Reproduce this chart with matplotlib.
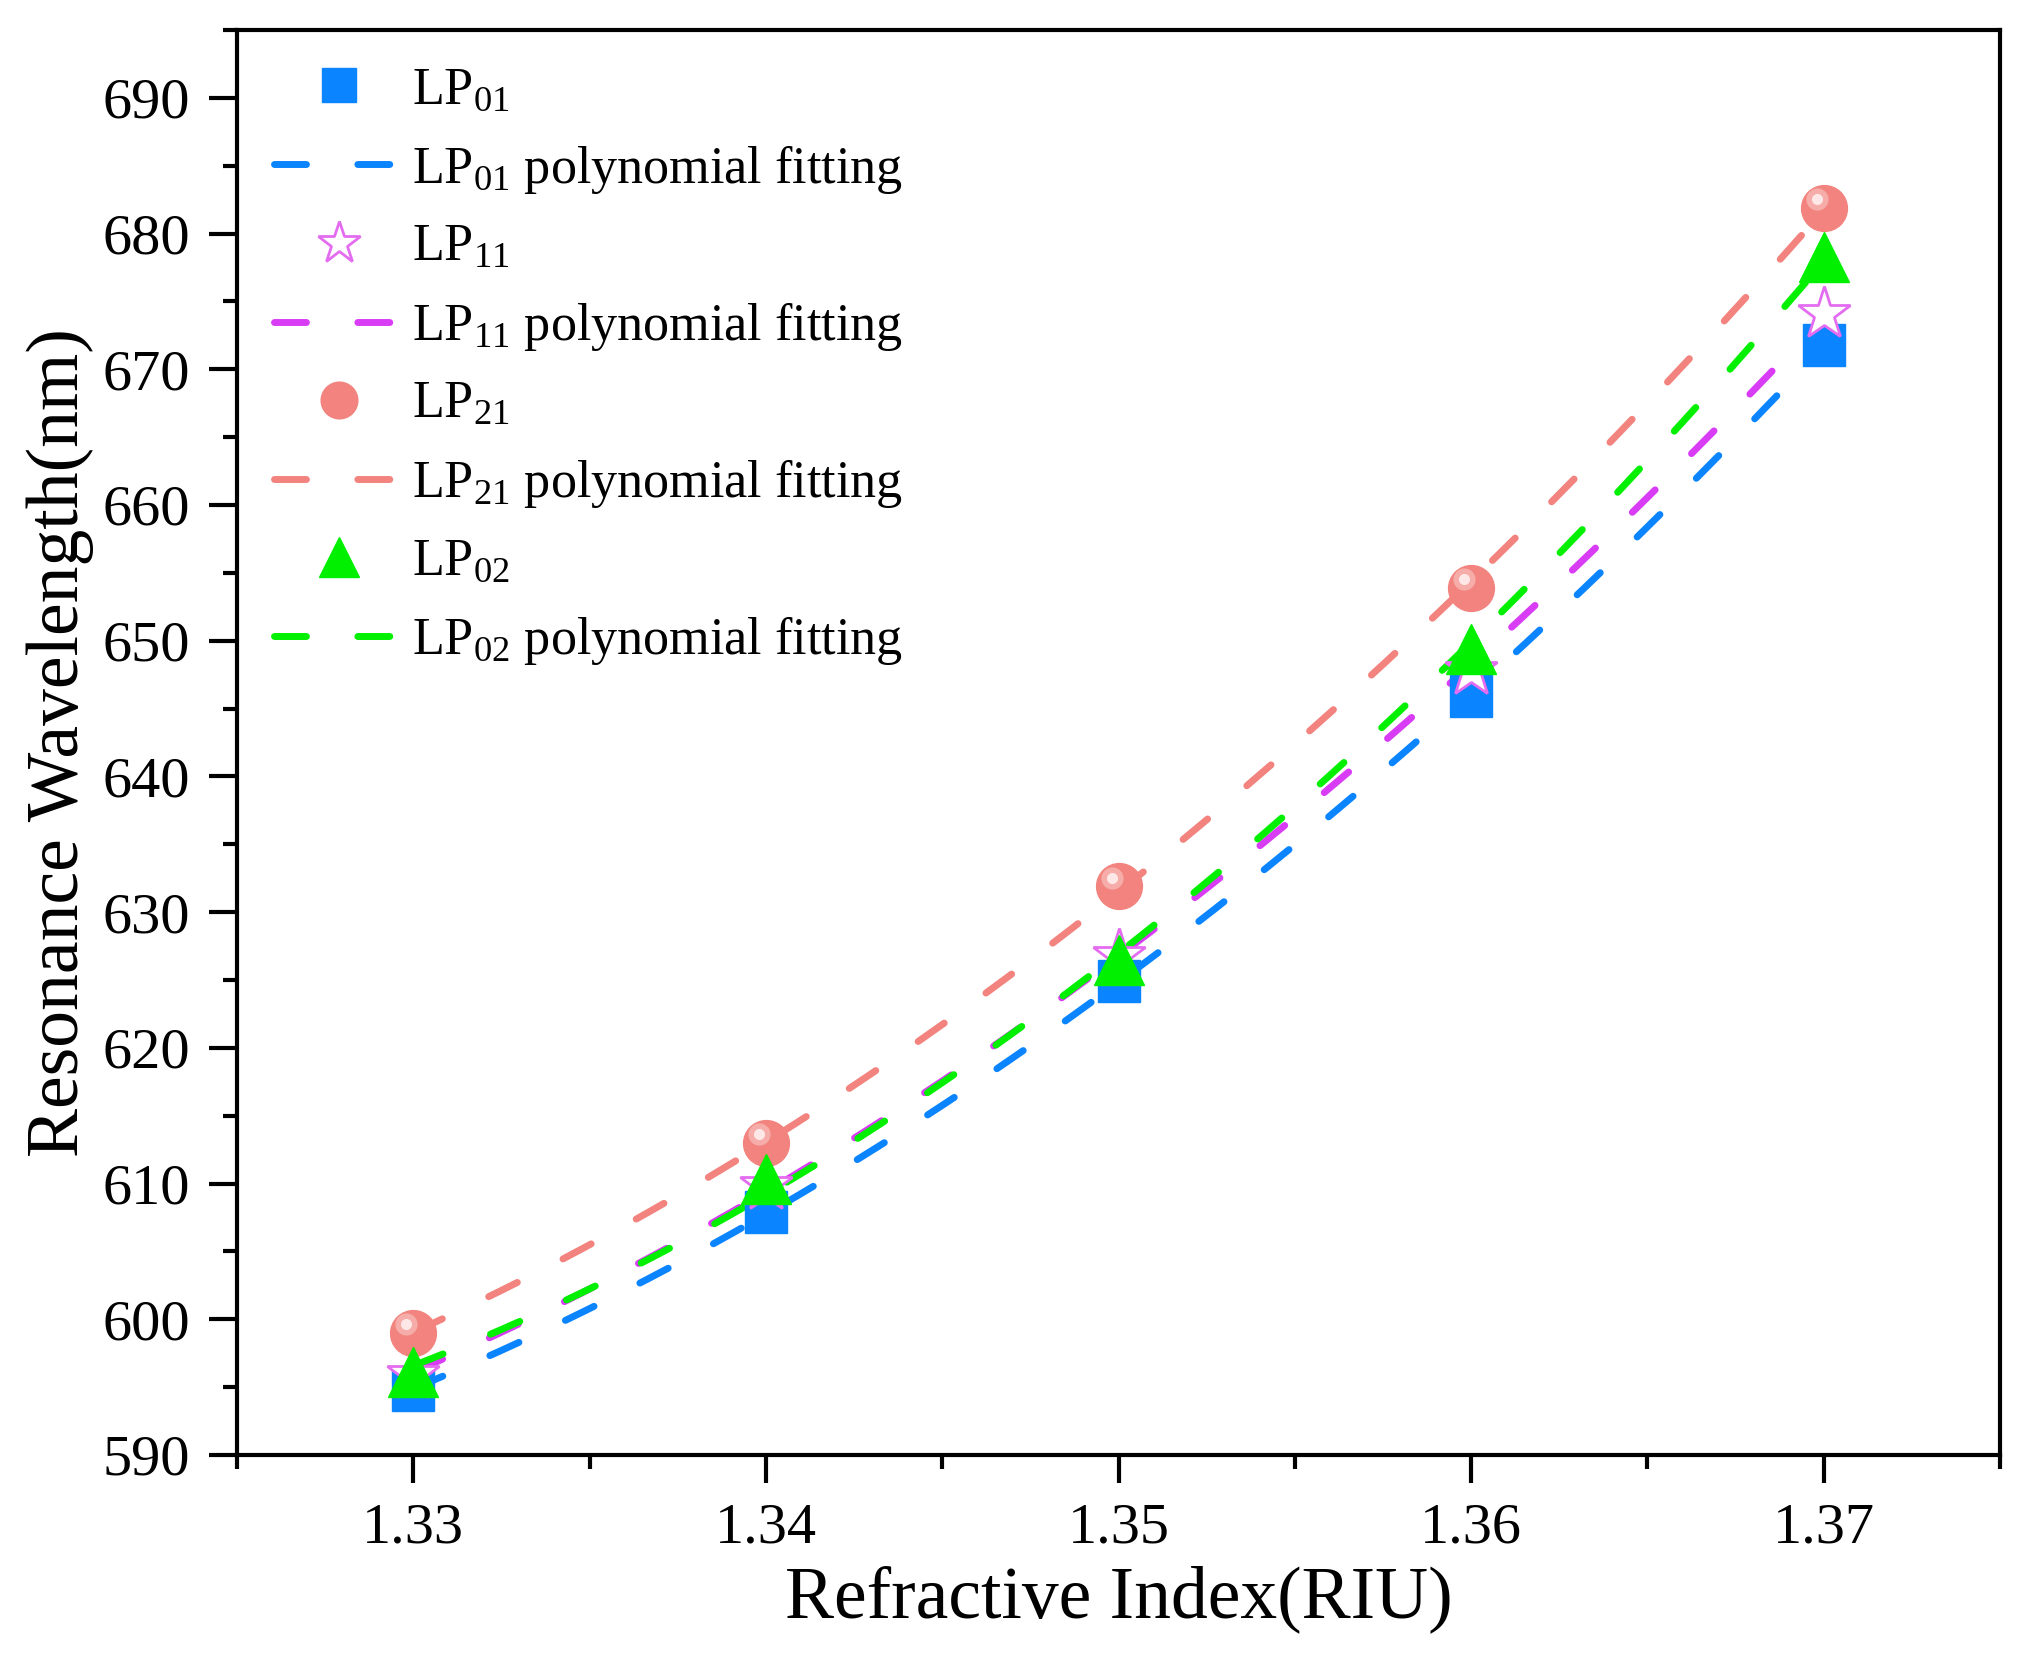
import numpy as np
import matplotlib
matplotlib.use("Agg")
import matplotlib.pyplot as plt
from matplotlib.ticker import MultipleLocator
import matplotlib.transforms as mtransforms

plt.rcParams["font.family"] = ["Liberation Serif", "DejaVu Serif"]
plt.rcParams["mathtext.fontset"] = "custom"
plt.rcParams["mathtext.rm"] = "Liberation Serif"
plt.rcParams["mathtext.it"] = "Liberation Serif:italic"
plt.rcParams["mathtext.bf"] = "Liberation Serif:bold"

# ── data ─────────────────────────────────────────────────────────────────────
ri = [1.33, 1.34, 1.35, 1.36, 1.37]
lp01 = [594.8, 607.9, 624.9, 645.9, 671.8]
lp11 = [595.9, 609.8, 626.8, 647.8, 674.1]
lp21 = [599.0, 613.0, 631.9, 653.9, 681.9]
lp02 = [596.1, 610.3, 626.5, 649.4, 678.3]

modes = ["01", "11", "21", "02"]

# colours
c_blue = "#0a84ff"
c_mag = "#d83cf5"
c_star = "#e46cf0"
c_red = "#f2837e"
c_green = "#00f000"

fig = plt.figure(figsize=(20.33, 16.59), dpi=100)
ax = fig.add_axes([0.1166, 0.123, 0.8672, 0.8589])

x = np.array(ri)
xf = np.linspace(ri[0], ri[-1], 200)


def fit(y):
    # 2nd order polynomial fit of one mode
    return np.polyval(np.polyfit(x, np.array(y), 2), xf)


dash_kw = dict(lw=5, dash_capstyle="round", zorder=2)
dashes = (4.6, 7.4)

# fitted curves
l01, = ax.plot(xf, fit(lp01), color=c_blue, dashes=dashes, **dash_kw)
l11, = ax.plot(xf, fit(lp11), color=c_mag, dashes=dashes, **dash_kw)
l21, = ax.plot(xf, fit(lp21), color=c_red, dashes=dashes, **dash_kw)
l02, = ax.plot(xf, fit(lp02), color=c_green, dashes=dashes, **dash_kw)

# measured points
m01, = ax.plot(ri, lp01, ls="none", marker="s", ms=30, color=c_blue,
               mec=c_blue, zorder=3)
m11, = ax.plot(ri, lp11, ls="none", marker="*", ms=40, mfc="white",
               mec=c_star, mew=2, zorder=4)
m21, = ax.plot(ri, lp21, ls="none", marker="o", ms=33, color=c_red,
               mec=c_red, zorder=5)
# highlight on the spheres
hl = mtransforms.offset_copy(ax.transData, fig=fig, x=-5, y=6, units="points")
ax.plot(ri, lp21, ls="none", marker="o", ms=16, color="#f6aca8", mec="none",
        transform=hl, zorder=5)
ax.plot(ri, lp21, ls="none", marker="o", ms=8, color="#fde8e7", mec="none",
        transform=hl, zorder=5)
m02, = ax.plot(ri, lp02, ls="none", marker="^", ms=36, color=c_green,
               mec=c_green, zorder=6)

ax.set_xlim(1.325, 1.375)
ax.set_ylim(590, 695)
ax.xaxis.set_major_locator(MultipleLocator(0.01))
ax.xaxis.set_minor_locator(MultipleLocator(0.005))
ax.yaxis.set_major_locator(MultipleLocator(10))
ax.yaxis.set_minor_locator(MultipleLocator(5))
ax.xaxis.set_major_formatter(plt.FormatStrFormatter("%.2f"))

for s in ax.spines.values():
    s.set_linewidth(3)
ax.tick_params(which="major", direction="out", length=20, width=3,
               labelsize=42, pad=14, top=False, right=False)
ax.tick_params(which="minor", direction="out", length=10, width=3,
               top=False, right=False)

ax.set_xlabel("Refractive Index(RIU)", fontsize=53, labelpad=8)
ax.set_ylabel("Resonance Wavelength(nm)", fontsize=53, labelpad=6)

handles = [m01, l01, m11, l11, m21, l21, m02, l02]
labels = []
for m in modes:
    labels.append(r"LP$_{\mathrm{%s}}$" % m)
    labels.append(r"LP$_{\mathrm{%s}}$ polynomial fitting" % m)

ax.legend(handles, labels, loc="upper left", frameon=False, fontsize=37.5,
          markerscale=0.8, handlelength=2.5, handletextpad=0.15,
          labelspacing=0.54, borderaxespad=0.4, borderpad=0.3)

fig.savefig("out.png", dpi=100)
